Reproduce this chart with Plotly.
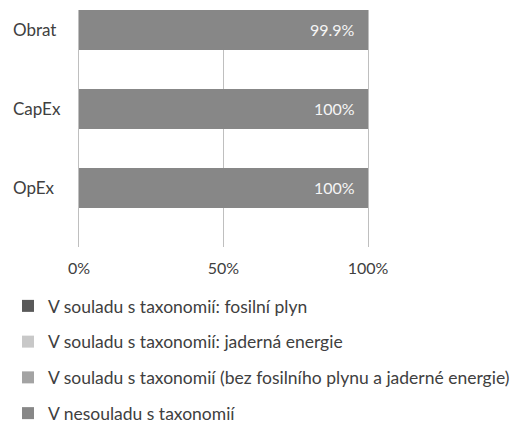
import plotly.graph_objects as go

categories = ["Obrat", "CapEx", "OpEx"]
series_names = [
    "V souladu s taxonomií: fosilní plyn",
    "V souladu s taxonomií: jaderná energie",
    "V souladu s taxonomií (bez fosilního plynu a jaderné energie)",
    "V nesouladu s taxonomií",
]
fossil_gas = [0, 0, 0]
nuclear = [0, 0, 0]
aligned_other = [0.1, 0, 0]
not_aligned = [99.9, 100, 100]
value_labels = ["99.9%", "100%", "100%"]
x_ticks = [0, 50, 100]
x_tick_labels = ["0%", "50%", "100%"]

colors = ["#595959", "#c8c8c8", "#a3a3a3", "#878787"]
series = [fossil_gas, nuclear, aligned_other, not_aligned]

FONT = "Lato"
TXT = "#404040"
GRID = "#bfbfbf"

fig = go.Figure()
for i, (name, vals) in enumerate(zip(series_names, series)):
    fig.add_trace(go.Bar(
        y=categories, x=vals, name=name, orientation="h",
        marker=dict(color=colors[i], line=dict(width=0)),
        width=0.506, legendgroup=f"g{i}",
        hoverinfo="x+name",
    ))

totals = [sum(v) for v in zip(*series)]
annotations = []
for cat, tot, lab in zip(categories, totals, value_labels):
    annotations.append(dict(
        x=tot, y=cat, xref="x", yref="y", text=lab, showarrow=False,
        xanchor="right", xshift=-11, font=dict(family=FONT, size=16, color="#f5f5f5"),
    ))
    annotations.append(dict(
        x=-0.235, y=cat, xref="paper", yref="y", text=cat, showarrow=False,
        xanchor="left", font=dict(family=FONT, size=17, color=TXT),
    ))

fig.update_layout(
    width=515, height=415,
    margin=dict(l=71, r=155, t=2, b=176, autoexpand=False),
    barmode="stack",
    plot_bgcolor="white", paper_bgcolor="white",
    font=dict(family=FONT, size=16, color=TXT),
    xaxis=dict(
        range=[0, 100], tickvals=x_ticks, ticktext=x_tick_labels,
        showgrid=True, gridcolor=GRID, gridwidth=1,
        zeroline=False, showline=False, ticks="", ticklabelstandoff=10,
        tickfont=dict(family=FONT, size=16, color=TXT),
    ),
    yaxis=dict(
        categoryorder="array", categoryarray=categories,
        range=[2.747, -0.253], showticklabels=False, showgrid=False,
        zeroline=False, showline=True, mirror=True, linecolor=GRID, linewidth=1,
        ticks="",
    ),
    legend=dict(
        x=-0.2457, xanchor="left", y=-0.173, yanchor="top",
        orientation="v", traceorder="grouped", tracegroupgap=10,
        font=dict(family=FONT, size=17.5, color=TXT),
        itemclick=False,
    ),
    showlegend=True,
    annotations=annotations,
)

fig.write_html("out.html")
